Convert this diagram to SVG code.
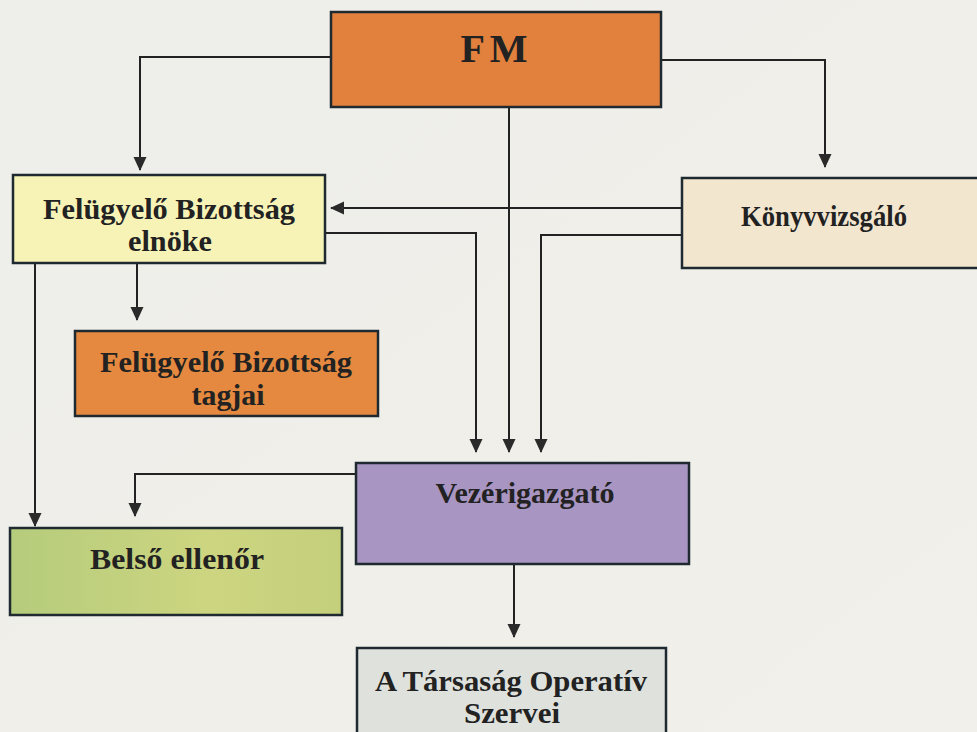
<svg xmlns="http://www.w3.org/2000/svg" width="977" height="732" viewBox="0 0 977 732">
<defs>
<marker id="ah" markerWidth="14" markerHeight="14" refX="13" refY="7" orient="auto" markerUnits="userSpaceOnUse">
<path d="M0,0.5 L14,7 L0,13.5 Z" fill="#2a2a2a"/>
</marker>
<linearGradient id="bg" x1="0" y1="0" x2="1" y2="1">
<stop offset="0" stop-color="#eeeeea"/>
<stop offset="1" stop-color="#f1f0ea"/>
</linearGradient>
<linearGradient id="green" x1="0" y1="0" x2="1" y2="0">
<stop offset="0" stop-color="#b5cc7c"/>
<stop offset="0.6" stop-color="#cdd580"/>
<stop offset="1" stop-color="#c4cf7c"/>
</linearGradient>
</defs>
<style>
.box{stroke:#1f2a30;stroke-width:2.5}
.t{font-family:"Liberation Serif","Times New Roman",serif;font-weight:bold;fill:#222;text-anchor:middle;font-size:29px}
.c{fill:none;stroke:#222;stroke-width:2}
</style>
<rect width="977" height="732" fill="url(#bg)"/>
<g id="connectors">
<path class="c" d="M331,57 H140 V170" marker-end="url(#ah)"/>
<path class="c" d="M661,60 H825 V167" marker-end="url(#ah)"/>
<path class="c" d="M509,107 V452" marker-end="url(#ah)"/>
<path class="c" d="M682,208 H331" marker-end="url(#ah)"/>
<path class="c" d="M325,233 H476 V452" marker-end="url(#ah)"/>
<path class="c" d="M682,235 H541 V452" marker-end="url(#ah)"/>
<path class="c" d="M137,263 V320" marker-end="url(#ah)"/>
<path class="c" d="M35,263 V526" marker-end="url(#ah)"/>
<path class="c" d="M356,474 H135 V516" marker-end="url(#ah)"/>
<path class="c" d="M514,564 V637" marker-end="url(#ah)"/>
</g>
<g id="fm">
<rect class="box" x="331" y="12" width="330" height="95" fill="#e2813d"/>
<text class="t" x="494" y="62" style="font-size:40px" textLength="67" lengthAdjust="spacing">FM</text>
</g>
<g id="fb-elnoke">
<rect class="box" x="13" y="175" width="312" height="88" fill="#f7f3b7"/>
<text class="t" x="169" y="219" textLength="252" lengthAdjust="spacingAndGlyphs">Felügyelő Bizottság</text>
<text class="t" x="170" y="251" textLength="84" lengthAdjust="spacingAndGlyphs">elnöke</text>
</g>
<g id="fb-tagjai">
<rect class="box" x="75" y="331" width="303" height="85" fill="#e4893f"/>
<text class="t" x="226" y="372" textLength="252" lengthAdjust="spacingAndGlyphs">Felügyelő Bizottság</text>
<text class="t" x="228" y="405" textLength="73" lengthAdjust="spacingAndGlyphs">tagjai</text>
</g>
<g id="konyvvizsgalo">
<rect class="box" x="682" y="178" width="300" height="90" fill="#f3e6cf"/>
<text class="t" x="824" y="226" textLength="166" lengthAdjust="spacingAndGlyphs">Könyvvizsgáló</text>
</g>
<g id="vezerigazgato">
<rect class="box" x="356" y="463" width="333" height="101" fill="#a895c2"/>
<text class="t" x="525" y="503" textLength="179" lengthAdjust="spacingAndGlyphs">Vezérigazgató</text>
</g>
<g id="belso-ellenor">
<rect class="box" x="10" y="528" width="332" height="87" fill="url(#green)"/>
<text class="t" x="177" y="569" textLength="174" lengthAdjust="spacingAndGlyphs">Belső ellenőr</text>
</g>
<g id="operativ">
<rect class="box" x="357" y="648" width="309" height="90" fill="#dfe1dc"/>
<text class="t" x="511" y="691" textLength="272" lengthAdjust="spacingAndGlyphs">A Társaság Operatív</text>
<text class="t" x="512" y="723" textLength="96" lengthAdjust="spacingAndGlyphs">Szervei</text>
</g>
</svg>
